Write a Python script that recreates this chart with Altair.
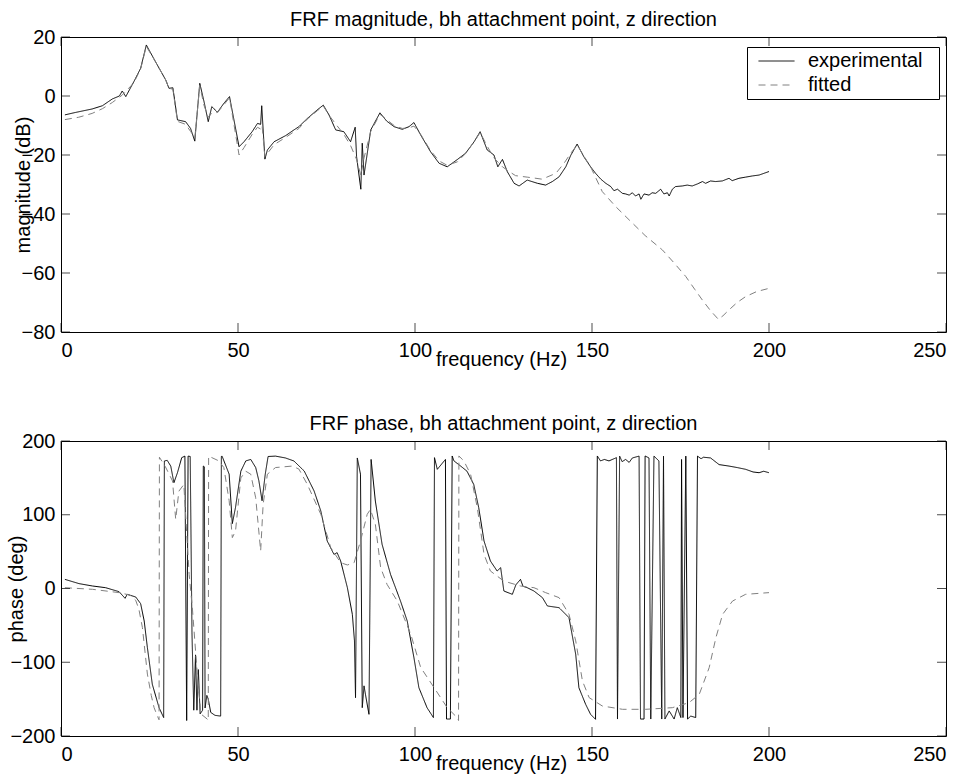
import altair as alt
import pandas as pd

FONT = "Liberation Sans"

# ---------------- data ----------------
mag_exp_f = [1.1, 4.0, 8.8, 11.7, 14.5, 16.5, 17.3, 18.3, 20.6, 22.5,
             24.1, 26.7, 29.6, 30.5, 31.6, 32.9, 35.2, 36.6, 37.8, 39.2,
             40.4, 41.6, 42.6, 44.2, 46.0, 47.6, 50.3, 51.7, 54.0, 55.5,
             56.4, 56.7, 57.6, 58.3, 60.2, 63.5, 65.8, 67.2, 69.6, 72.4,
             74.1, 75.7, 77.6, 79.9, 81.8, 83.1, 83.5, 84.7, 85.1, 85.6,
             87.5, 90.1, 92.0, 94.1, 96.4, 98.3, 99.7, 101.6, 104.4, 106.8,
             109.1, 112.0, 114.3, 116.7, 118.4, 120.4, 122.3, 123.4, 124.7, 126.1,
             128.0, 129.4, 131.7, 134.6, 136.9, 138.8, 140.7, 142.6, 144.0, 145.8,
             147.7, 149.6, 151.0, 152.5, 153.9, 155.3, 156.2, 157.2, 158.6, 159.5,
             160.5, 161.4, 162.3, 163.3, 163.8, 164.7, 166.1, 167.0, 168.0, 168.9,
             169.4, 170.3, 171.3, 171.8, 172.7, 173.6, 175.5, 176.9, 178.3, 179.8,
             181.2, 182.1, 183.5, 184.9, 186.8, 188.7, 189.6, 191.5, 193.4, 195.3,
             197.2, 198.6, 200.0]
mag_exp_db = [-6.4, -5.6, -4.4, -3.3, -1.0, 0.0, 1.7, -0.2, 4.9, 9.4,
              17.3, 11.6, 5.4, 2.6, 2.8, -8.1, -8.7, -11.0, -15.3, 4.3,
              -1.9, -8.7, -3.6, -5.5, -2.5, -0.2, -17.2, -15.5, -12.1, -9.3,
              -9.6, -3.3, -21.4, -18.3, -15.5, -13.4, -11.5, -10.4, -7.6, -4.7,
              -3.1, -6.4, -11.5, -12.1, -15.5, -10.6, -20.6, -31.6, -16.0, -26.8,
              -11.5, -5.7, -8.5, -10.4, -11.3, -10.4, -9.0, -13.2, -18.9, -22.8,
              -24.0, -21.5, -19.4, -15.5, -12.1, -18.3, -20.0, -24.0, -21.5, -25.7,
              -29.6, -30.5, -28.5, -29.6, -30.2, -29.0, -27.4, -24.0, -20.1, -16.3,
              -20.6, -24.0, -26.2, -28.2, -29.6, -30.7, -32.1, -31.6, -33.0, -33.2,
              -33.6, -32.8, -33.9, -33.2, -35.0, -33.2, -33.6, -32.8, -33.0, -32.1,
              -31.6, -33.2, -32.8, -33.9, -31.6, -30.7, -30.5, -30.2, -30.5, -29.8,
              -29.0, -29.6, -28.8, -29.0, -28.8, -27.9, -28.7, -27.9, -27.5, -27.1,
              -26.8, -26.2, -25.6]

mag_fit_f = [1.1, 5.0, 8.8, 11.7, 14.5, 17.3, 20.6, 22.5, 24.1, 26.7,
             29.6, 30.5, 31.6, 32.9, 35.2, 36.6, 37.8, 39.2, 40.4, 41.6,
             42.6, 44.2, 46.0, 47.6, 50.3, 51.7, 54.0, 55.5, 56.4, 56.8,
             57.6, 58.3, 60.2, 63.5, 67.2, 69.6, 72.4, 74.1, 75.7, 77.6,
             79.9, 81.8, 83.5, 84.7, 85.6, 87.5, 90.1, 94.1, 96.4, 98.3,
             99.7, 101.6, 104.4, 106.8, 109.1, 112.0, 114.3, 116.7, 118.4, 120.4,
             122.3, 124.7, 126.1, 128.4, 131.7, 133.6, 135.9, 139.8, 142.1, 144.0,
             145.8, 147.2, 149.6, 152.9, 156.7, 160.5, 165.0, 169.9, 173.2, 176.5,
             179.0, 181.2, 183.5, 185.7, 187.0, 188.7, 191.0, 193.4, 196.5, 200.0]
mag_fit_db = [-8.0, -7.2, -5.9, -4.3, -2.2, 0.3, 4.5, 9.2, 16.8, 11.6,
              5.4, 2.6, 2.3, -8.6, -9.6, -12.0, -14.2, 3.6, -3.2, -7.2,
              -5.8, -5.6, -3.0, -0.6, -20.0, -17.5, -13.0, -10.6, -11.2, -10.0,
              -20.5, -19.5, -16.5, -14.0, -11.0, -7.8, -5.0, -3.4, -6.5, -9.5,
              -13.0, -16.8, -21.5, -27.0, -21.0, -12.0, -6.2, -10.0, -11.0, -10.8,
              -10.2, -13.0, -18.5, -22.0, -23.5, -22.3, -19.5, -15.5, -12.4, -17.0,
              -21.0, -24.0, -25.2, -27.0, -27.5, -27.8, -28.2, -26.2, -22.8, -19.4,
              -16.6, -19.4, -24.0, -32.4, -37.5, -42.0, -47.3, -52.2, -56.6, -61.2,
              -65.5, -69.2, -72.8, -75.7, -74.5, -72.5, -70.0, -68.0, -66.3, -65.2]

ph_exp_f = [1.1, 5.1, 8.9, 12.6, 16.4, 18.1, 18.7, 21.1, 22.5, 23.5,
            24.4, 25.8, 27.7, 29.0, 29.2, 30.0, 31.0, 31.9, 32.9, 34.1,
            35.0, 35.5, 35.9, 36.5, 37.0, 37.5, 38.0, 38.4, 38.8, 39.3,
            40.0, 40.2, 40.5, 40.7, 41.2, 41.6, 42.3, 43.5, 45.1, 45.3,
            45.5, 47.5, 48.4, 49.3, 50.8, 52.2, 53.6, 55.0, 55.9, 56.8,
            57.7, 58.5, 60.6, 63.4, 65.8, 68.7, 71.5, 73.4, 75.2, 77.1,
            78.0, 79.0, 80.9, 82.3, 82.9, 83.2, 83.7, 84.6, 85.1, 85.6,
            86.0, 87.0, 87.6, 88.8, 90.7, 93.1, 95.9, 97.8, 99.7, 101.1,
            103.4, 105.2, 105.5, 106.3, 108.6, 108.9, 110.0, 110.5, 111.0, 112.9,
            114.7, 116.6, 118.0, 119.5, 121.3, 123.2, 124.2, 125.1, 127.5, 128.5,
            129.8, 130.5, 131.7, 133.6, 136.0, 137.4, 140.7, 143.5, 145.4, 146.3,
            148.2, 149.6, 151.0, 151.5, 152.4, 153.5, 154.8, 156.9, 157.2, 157.8,
            158.5, 159.5, 160.5, 161.4, 163.3, 163.7, 164.7, 165.0, 166.1, 166.6,
            167.5, 168.9, 169.7, 170.2, 170.6, 171.8, 173.2, 174.1, 175.1, 175.3,
            175.7, 176.5, 177.0, 177.9, 179.3, 179.8, 180.8, 181.5, 183.5, 185.9,
            188.7, 191.0, 193.4, 195.5, 197.2, 198.5, 200.0]
ph_exp_deg = [12.4, 6.6, 3.4, 1.1, -4.3, -13.3, -7.9, -11.5, -20.6, -44.0,
              -80.0, -130.0, -161.6, -175.0, 172.9, 173.8, 166.0, 143.5, 157.0, 177.4,
              179.5, -179.0, 179.5, 179.0, -60.0, -165.0, -90.0, -165.0, -110.0, -170.0,
              -165.0, 166.0, 165.0, -162.0, -145.0, -150.0, -168.0, -172.0, -173.0, 179.0,
              179.5, 155.0, 88.0, 110.0, 159.0, 173.0, 175.0, 164.0, 146.0, 119.0,
              155.0, 179.0, 179.5, 177.0, 172.9, 159.3, 132.2, 105.0, 64.4, 46.3,
              48.6, 37.3, 1.1, -35.0, -71.0, -148.0, 177.0, 155.0, -161.6, -132.0,
              -143.5, -170.6, 175.0, 118.6, 59.9, 19.0, -17.0, -44.0, -93.8, -134.5,
              -161.6, -175.0, 177.4, 161.6, 175.0, -177.0, -177.0, 179.7, 173.0, 166.0,
              159.0, 141.0, 109.6, 64.4, 37.3, 23.7, 28.2, -3.4, -7.9, 5.0,
              12.4, 3.0, 1.1, -3.4, -12.4, -23.7, -26.0, -39.5, -89.3, -134.5,
              -157.0, -170.6, -177.4, 179.7, 173.0, 175.0, 173.0, 177.4, -177.0, 179.5,
              172.0, 175.0, 171.0, 177.0, 179.5, -177.0, -177.0, 179.7, 177.0, -177.0,
              179.5, 173.0, -177.0, 179.5, -177.0, -166.0, -177.0, -161.6, -175.0, 175.0,
              -175.0, 179.5, -177.0, -173.0, -175.0, 179.5, 176.0, 178.0, 177.0, 168.0,
              166.0, 164.0, 161.6, 158.0, 157.0, 159.0, 157.0]

ph_fit_f = [1.1, 8.9, 16.4, 19.5, 21.1, 22.0, 23.0, 24.4, 25.5, 26.3,
            27.4, 27.7, 27.8, 29.5, 31.5, 32.4, 33.3, 34.7, 36.2, 37.1,
            38.5, 39.5, 41.3, 41.6, 41.7, 44.6, 46.0, 47.5, 48.4, 49.3,
            50.8, 52.2, 53.6, 55.0, 56.4, 57.1, 58.3, 60.6, 65.3, 67.2,
            69.6, 73.4, 76.2, 79.0, 80.9, 82.8, 84.6, 86.5, 87.4, 88.8,
            90.3, 92.1, 95.0, 98.8, 101.6, 105.4, 109.1, 111.9, 112.3, 112.4,
            113.8, 115.7, 117.6, 119.5, 121.3, 125.1, 129.8, 133.6, 136.9, 140.7,
            143.5, 145.4, 147.3, 149.2, 152.9, 158.6, 165.2, 172.7, 177.4, 180.3,
            183.1, 185.0, 186.9, 189.7, 193.4, 200.0]
ph_fit_deg = [1.1, -1.1, -5.6, -9.0, -16.0, -28.0, -53.0, -116.0, -145.0, -161.6,
              -175.0, -178.0, 178.0, 165.0, 145.8, 93.8, 132.0, 141.0, 19.0, -26.0,
              -116.0, -170.0, -177.0, -179.0, 179.5, 173.0, 164.0, 119.0, 69.0, 78.0,
              150.0, 159.0, 155.0, 123.0, 51.0, 114.0, 155.0, 164.0, 166.0, 162.0,
              141.0, 100.6, 55.4, 35.0, 31.9, 35.0, 64.4, 100.6, 107.3, 87.0,
              28.2, 5.6, -17.0, -62.0, -107.0, -134.5, -161.6, -175.0, -179.0, 179.7,
              173.0, 155.0, 109.6, 46.3, 23.7, 10.0, 3.4, 1.1, -5.6, -12.4,
              -35.0, -71.0, -125.4, -148.0, -159.3, -163.8, -163.8, -161.6, -154.8, -143.5,
              -107.3, -66.7, -35.0, -17.0, -7.9, -5.6]

series_names = ["experimental", "fitted"]
x_ticks = [0, 50, 100, 150, 200, 250]
mag_ticks = [-80, -60, -40, -20, 0, 20]
ph_ticks = [-200, -100, 0, 100, 200]

W, H = 885, 295


def make_df(fe, ve, ff, vf):
    rows = []
    for i, (f, v) in enumerate(zip(fe, ve)):
        rows.append({"freq": f, "val": v, "series": series_names[0], "idx": i})
    for i, (f, v) in enumerate(zip(ff, vf)):
        rows.append({"freq": f, "val": v, "series": series_names[1], "idx": i})
    return pd.DataFrame(rows)


def panel(df, ydom, yticks, ytitle, ytitle_x, title, show_legend):
    xs = alt.Scale(domain=[0, 250], nice=False, zero=False)
    ys = alt.Scale(domain=ydom, nice=False, zero=False)
    xaxis = alt.Axis(values=x_ticks, title="frequency (Hz)", titleX=440, titleY=27,
                     titleBaseline="middle", titleAlign="center")
    yaxis = alt.Axis(values=yticks, title=ytitle, titleX=ytitle_x, titleY=H / 2,
                     titleAngle=270, titleBaseline="middle", titleAlign="center")
    if show_legend:
        # an invisible title on the right only widens the box (right margin)
        leg = alt.Legend(title="x", titleOpacity=0, titleOrient="right", titlePadding=0,
                         titleFontSize=20, titleFont=FONT,
                         orient="none", legendX=686, legendY=10,
                         strokeColor="black", fillColor="white", padding=4,
                         symbolType="stroke", symbolSize=1296, symbolStrokeWidth=1,
                         symbolOffset=7, labelOffset=13, labelFontSize=20,
                         labelFont=FONT, labelColor="black", rowPadding=4,
                         clipHeight=20, cornerRadius=0)
    else:
        leg = None
    lines = alt.Chart(df).mark_line(strokeWidth=1, clip=True).encode(
        x=alt.X("freq:Q", scale=xs, axis=xaxis),
        y=alt.Y("val:Q", scale=ys, axis=yaxis),
        color=alt.Color("series:N", scale=alt.Scale(domain=series_names, range=["#000000", "#808080"]), legend=leg),
        strokeDash=alt.StrokeDash("series:N", scale=alt.Scale(domain=series_names, range=[[1, 0], [7, 5]]), legend=leg),
        order=alt.Order("idx:Q"),
    )
    xt = pd.DataFrame({"freq": x_ticks})
    yt = pd.DataFrame({"val": yticks})
    tick = dict(size=9, thickness=1, color="black")
    tx_top = alt.Chart(xt).mark_tick(orient="vertical", **tick).encode(
        x=alt.X("freq:Q", scale=xs, axis=xaxis), y=alt.value(4.5))
    tx_bot = alt.Chart(xt).mark_tick(orient="vertical", **tick).encode(
        x=alt.X("freq:Q", scale=xs, axis=xaxis), y=alt.value(H - 4.5))
    ty_left = alt.Chart(yt).mark_tick(orient="horizontal", **tick).encode(
        y=alt.Y("val:Q", scale=ys, axis=yaxis), x=alt.value(4.5))
    ty_right = alt.Chart(yt).mark_tick(orient="horizontal", **tick).encode(
        y=alt.Y("val:Q", scale=ys, axis=yaxis), x=alt.value(W - 4.5))
    return alt.layer(lines, tx_top, tx_bot, ty_left, ty_right).properties(
        width=W, height=H,
        title=alt.Title(title, fontSize=20, font=FONT, fontWeight="normal", color="black",
                        baseline="alphabetic", offset=-18.5, frame="group", anchor="middle"),
    )


mag_df = make_df(mag_exp_f, mag_exp_db, mag_fit_f, mag_fit_db)
ph_df = make_df(ph_exp_f, ph_exp_deg, ph_fit_f, ph_fit_deg)

top = panel(mag_df, [-80, 20], mag_ticks, "magnitude (dB)", -38,
            "FRF magnitude, bh attachment point, z direction", True)
bottom = panel(ph_df, [-200, 200], ph_ticks, "phase (deg)", -45,
               "FRF phase, bh attachment point, z direction", False)

chart = alt.vconcat(top, bottom, spacing=43).resolve_scale(
    color="independent", strokeDash="independent"
).properties(
    padding={"left": 5, "top": 9, "right": 5, "bottom": 0},
    background="white",
).configure(font=FONT).configure_view(
    stroke="black", strokeWidth=1
).configure_axis(
    domain=False, ticks=False, tickSize=0, grid=False,
    labelFont=FONT, labelFontSize=20, labelColor="black",
    titleFont=FONT, titleFontSize=20, titleFontWeight="normal", titleColor="black",
).configure_axisX(labelPadding=8).configure_axisY(labelPadding=6)

chart.save("out.html", embed_options={"renderer": "svg", "actions": False})
